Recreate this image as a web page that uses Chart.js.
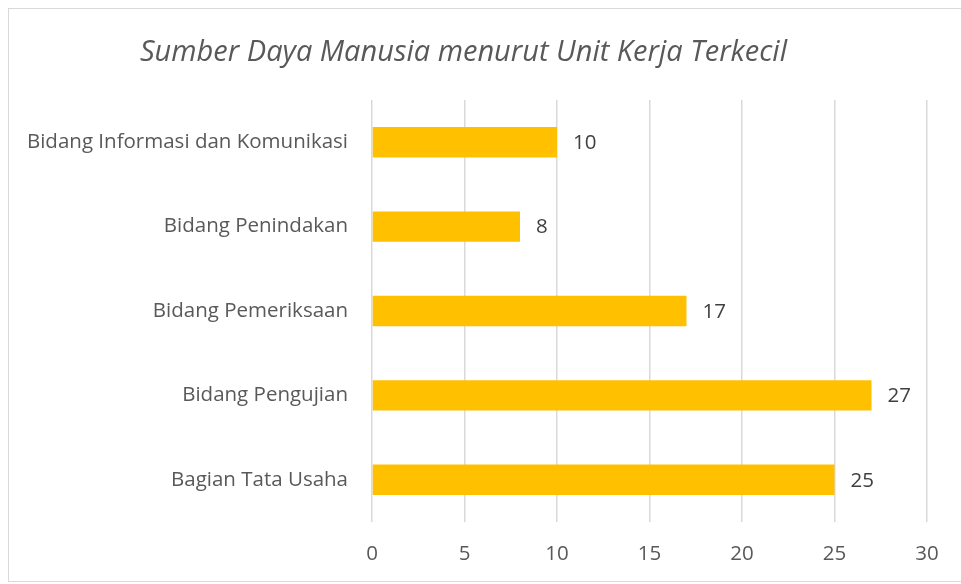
<!DOCTYPE html>
<html>
<head>
<meta charset="utf-8">
<script src="https://cdn.jsdelivr.net/npm/chart.js@4"></script>
<style>
  html, body { margin: 0; padding: 0; background: #fff; }
  #frame { position: absolute; left: 8px; top: 8px; width: 970px; height: 574px; border: 1px solid #d9d9d9; box-sizing: border-box; }
  #wrap { position: absolute; left: 0; top: 0; width: 961px; height: 584px; }
</style>
</head>
<body>
<div id="frame"></div>
<div id="wrap"><canvas id="chart" width="961" height="584"></canvas></div>
<script>
const categories = [
  'Bidang Informasi dan Komunikasi',
  'Bidang Penindakan',
  'Bidang Pemeriksaan',
  'Bidang Pengujian',
  'Bagian Tata Usaha'
];
const staffCounts = [10, 8, 17, 27, 25];
const xTicks = [0, 5, 10, 15, 20, 25, 30];

const FONT = '"Open Sans", Lato, sans-serif';

// writes the value just past the end of each bar
const barValueLabels = {
  id: 'barValueLabels',
  afterDatasetsDraw(chart) {
    const ctx = chart.ctx;
    const meta = chart.getDatasetMeta(0);
    ctx.save();
    ctx.font = '20.5px ' + FONT;
    ctx.fillStyle = '#404040';
    ctx.textAlign = 'left';
    ctx.textBaseline = 'middle';
    meta.data.forEach((bar, i) => {
      ctx.fillText(String(staffCounts[i]), bar.x + 16, bar.y + 1);
    });
    ctx.restore();
  }
};

new Chart(document.getElementById('chart').getContext('2d'), {
  type: 'bar',
  data: {
    labels: categories,
    datasets: [{
      data: staffCounts,
      backgroundColor: '#FFC000',
      borderWidth: 0,
      barPercentage: 0.36,
      categoryPercentage: 1.0
    }]
  },
  options: {
    indexAxis: 'y',
    responsive: false,
    animation: false,
    layout: { padding: { left: 0, right: 34, top: 0, bottom: 0 } },
    plugins: {
      legend: { display: false },
      tooltip: { enabled: false },
      title: {
        display: true,
        text: 'Sumber Daya Manusia menurut Unit Kerja Terkecil',
        color: '#595959',
        font: { family: FONT, size: 29, style: 'italic', weight: 'normal', lineHeight: 1.2 },
        padding: { top: 35, bottom: 30.2 }
      }
    },
    scales: {
      x: {
        min: 0,
        max: 30,
        afterBuildTicks(scale) { scale.ticks = xTicks.map(v => ({ value: v })); },
        afterFit(scale) { scale.height = 62; },
        grid: { color: '#d9d9d9', lineWidth: 1.5, drawTicks: false },
        border: { display: false },
        ticks: { color: '#595959', font: { family: FONT, size: 20.5 }, padding: 20 }
      },
      y: {
        afterFit(scale) { scale.width = 372; },
        grid: { display: false, drawTicks: false },
        border: { display: false },
        ticks: { color: '#595959', font: { family: FONT, size: 20.5 }, padding: 24 }
      }
    }
  },
  plugins: [barValueLabels]
});
</script>
</body>
</html>
